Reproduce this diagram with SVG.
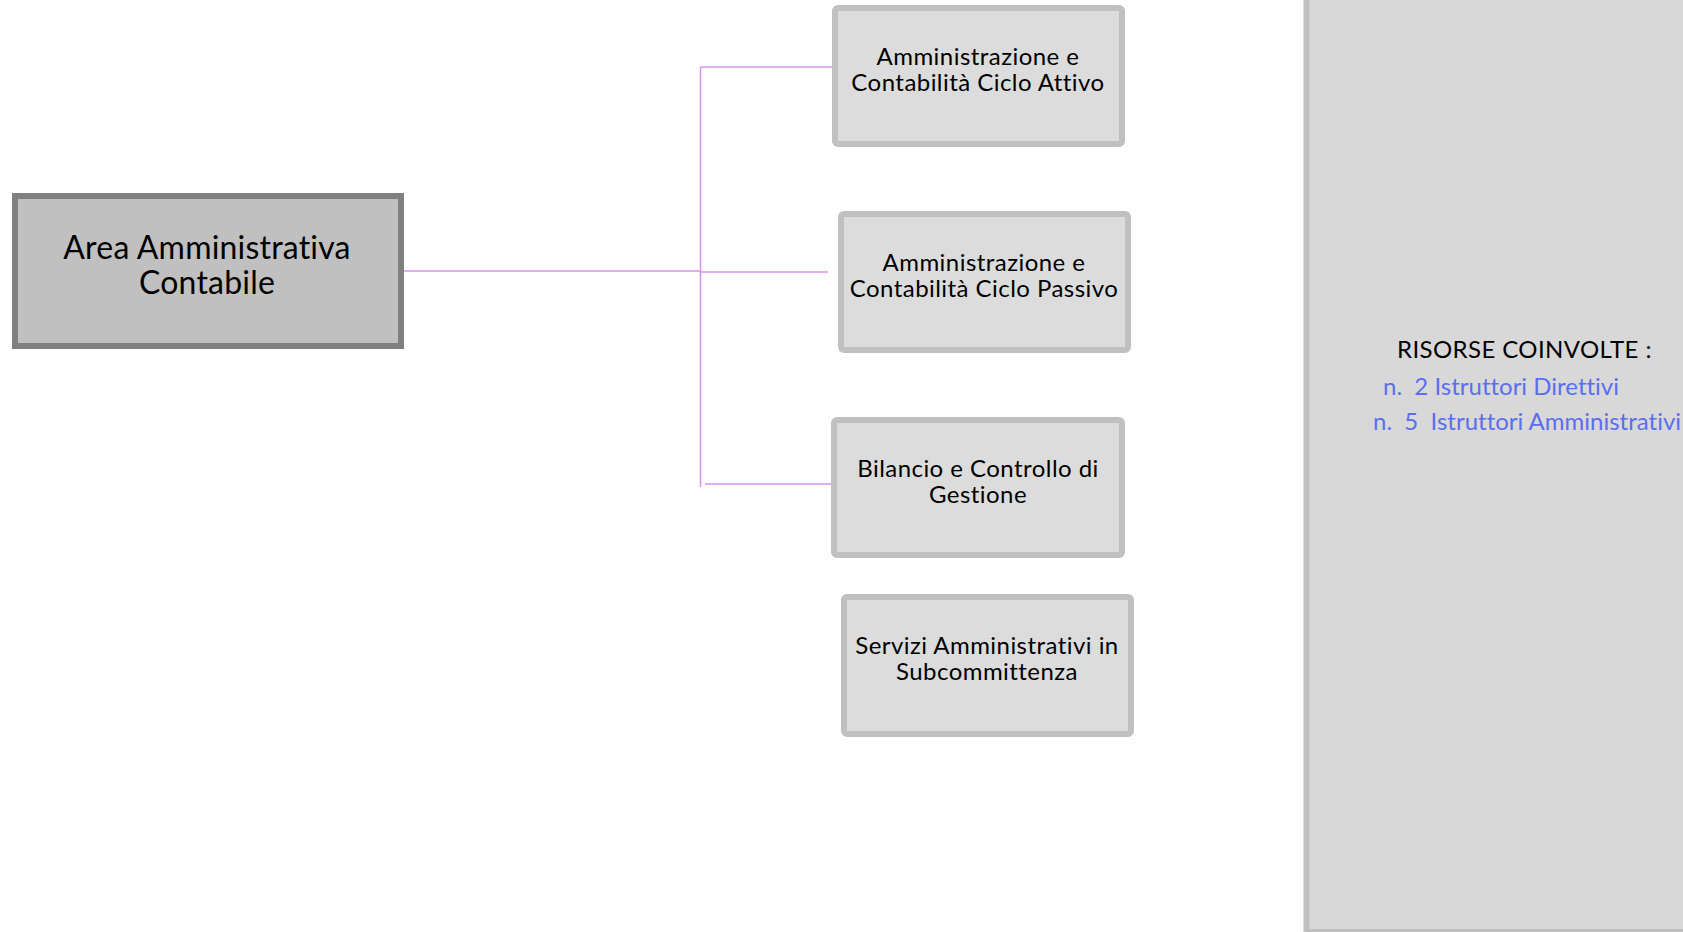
<svg xmlns="http://www.w3.org/2000/svg" width="1683" height="932" viewBox="0 0 1683 932">
  <style>
    .root { fill: #c0c0c0; stroke: #808080; stroke-width: 6; }
    .unit { fill: #dcdcdc; stroke: #c0c0c0; stroke-width: 6; }
    .panel { fill: #d8d8d8; stroke: #c0c0c0; stroke-width: 6; }
    text { font-family: Lato, "Noto Sans", "Liberation Sans", sans-serif; font-variant-ligatures: none; }
    .lbl { fill: #000; text-anchor: middle; }
    .big { font-size: 32px; letter-spacing: 0.2px; }
    .mid { font-size: 24px; letter-spacing: 0.45px; }
    .res { font-size: 24px; }
    .head { letter-spacing: 0.4px; }
    .blue { fill: #5b6ef0; }
    .wire { stroke: #d793ec; stroke-width: 1.5; fill: none; }
  </style>

  <rect width="1683" height="932" fill="#fefefe"/>

  <!-- resources side panel -->
  <g id="panel-risorse">
    <rect class="panel" x="1306.5" y="-20" width="420" height="952"/>
    <text class="res head" x="1397" y="358" fill="#000">RISORSE COINVOLTE :</text>
    <text class="res blue" x="1383" y="395" xml:space="preserve">n.  2 Istruttori Direttivi</text>
    <text class="res blue" x="1373" y="430" xml:space="preserve">n.  5  Istruttori Amministrativi</text>
  </g>

  <!-- connectors -->
  <g id="connectors">
    <path class="wire" d="M404 271 H700.5"/>
    <path class="wire" d="M700.5 67 V487"/>
    <path class="wire" d="M700.5 67 H834"/>
    <path class="wire" d="M700.5 272 H828"/>
    <path class="wire" d="M705 484 H831"/>
  </g>

  <g id="node-area">
    <rect class="root" x="15" y="196" width="386" height="150"/>
    <text class="lbl big" x="207" y="259">Area Amministrativa</text>
    <text class="lbl big" x="207" y="294">Contabile</text>
  </g>

  <g id="node-ciclo-attivo">
    <rect class="unit" x="835" y="8" width="287" height="136" rx="3"/>
    <text class="lbl mid" x="978" y="65">Amministrazione e</text>
    <text class="lbl mid" x="978" y="91">Contabilità Ciclo Attivo</text>
  </g>

  <g id="node-ciclo-passivo">
    <rect class="unit" x="841" y="214" width="287" height="136" rx="3"/>
    <text class="lbl mid" x="984" y="271">Amministrazione e</text>
    <text class="lbl mid" x="984" y="297">Contabilità Ciclo Passivo</text>
  </g>

  <g id="node-bilancio">
    <rect class="unit" x="834" y="420" width="288" height="135" rx="3"/>
    <text class="lbl mid" x="978" y="477">Bilancio e Controllo di</text>
    <text class="lbl mid" x="978" y="503">Gestione</text>
  </g>

  <g id="node-servizi">
    <rect class="unit" x="844" y="597" width="287" height="137" rx="3"/>
    <text class="lbl mid" x="987" y="654">Servizi Amministrativi in</text>
    <text class="lbl mid" x="987" y="680">Subcommittenza</text>
  </g>
</svg>
